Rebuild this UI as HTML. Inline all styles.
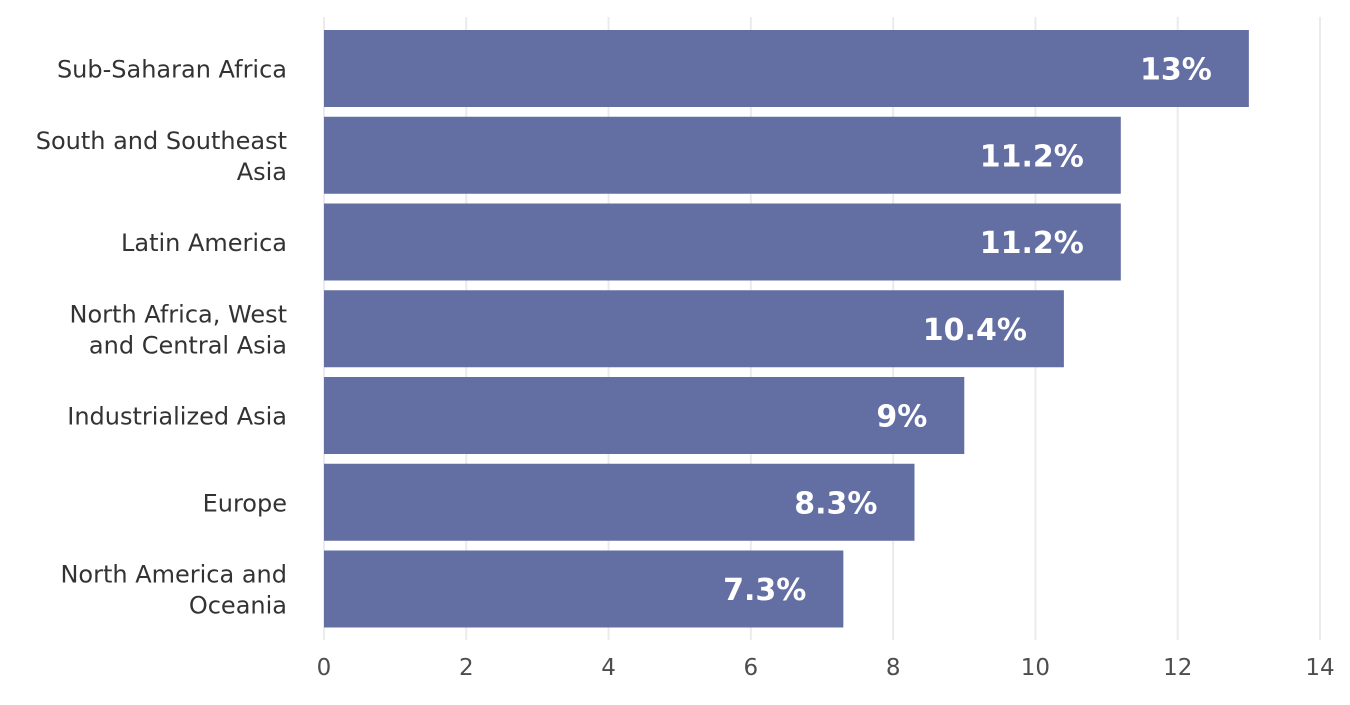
<!DOCTYPE html>
<html><head><meta charset="utf-8"><style>
body{margin:0;background:#fff;}
svg text{font-family:"DejaVu Sans","Liberation Sans",sans-serif;}
</style></head><body>
<svg id="chart" width="1350" height="700" xmlns="http://www.w3.org/2000/svg">
<g id="grid"></g>
<g id="bars"></g>
<g id="ylabels"></g>
<g id="xticks"></g>
</svg>
<script>
const categories=[["Sub-Saharan Africa"],["South and Southeast","Asia"],["Latin America"],["North Africa, West","and Central Asia"],["Industrialized Asia"],["Europe"],["North America and","Oceania"]];
const values=[13,11.2,11.2,10.4,9,8.3,7.3];
const valueLabels=["13%","11.2%","11.2%","10.4%","9%","8.3%","7.3%"];
const ticks=[0,2,4,6,8,10,12,14];
const NS="http://www.w3.org/2000/svg";
const x=v=>324+v*(1320-324)/14;
const yc=i=>68.5+i*86.75;
const bh=77;
function mk(tag,attrs,parent){const e=document.createElementNS(NS,tag);for(const k in attrs)e.setAttribute(k,attrs[k]);document.getElementById(parent).appendChild(e);return e;}
ticks.forEach(t=>{
  const l=mk('line',{x1:x(t),x2:x(t),y1:17,y2:640,stroke:'#ebebeb','stroke-width':2},'grid');
  
  
  const tx=mk('text',{x:x(t),y:675,'text-anchor':'middle','font-size':23,fill:'#4d4d4d'},'xticks');
  tx.textContent=t;
  
  
});
values.forEach((v,i)=>{
  const r=mk('rect',{x:x(0),y:yc(i)-bh/2,width:x(v)-x(0),height:bh,fill:'#636ea3'},'bars');
  
  
  const t=mk('text',{x:x(v)-37,y:yc(i)+11,'text-anchor':'end','font-size':30,'font-weight':'bold',fill:'#fff'},'bars');
  t.textContent=valueLabels[i];
  
  
  const lines=categories[i];
  const lab=mk('text',{'text-anchor':'end','font-size':24,fill:'#333'},'ylabels');
  
  
  lines.forEach((s,j)=>{
    const ts=document.createElementNS(NS,'tspan');
    ts.setAttribute('x',287);
    ts.setAttribute('y',yc(i)+9+(j-(lines.length-1)/2)*31);
    ts.textContent=s;
    lab.appendChild(ts);
  });
});
</script>
</body></html>
